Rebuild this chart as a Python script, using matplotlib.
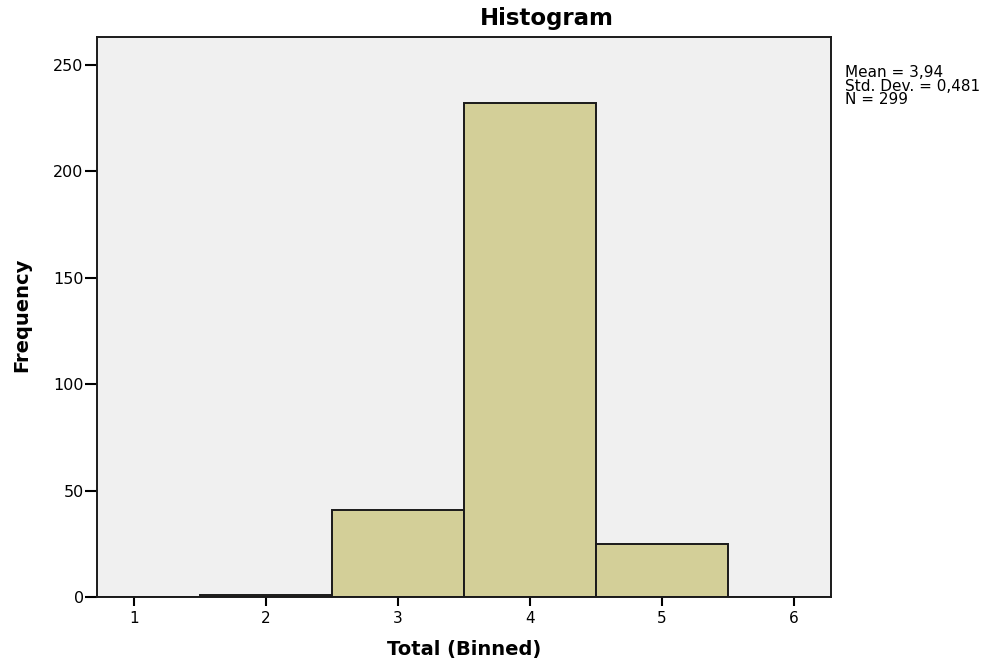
import numpy as np
import matplotlib as mpl
mpl.use('Agg')
import matplotlib.pyplot as plt

plt.rcParams['font.family'] = ['DejaVu Sans']

# binned totals and their frequencies
bins = [1, 2, 3, 4, 5, 6]
counts = [0, 1, 41, 232, 25, 0]
yticks = [0, 50, 100, 150, 200, 250]
stats_lines = ["Mean = 3,94", "Std. Dev. = 0,481", "N = 299"]

fig = plt.figure(figsize=(9.99, 6.63), dpi=100)
ax = fig.add_axes([97/999, 66/663, 734/999, 560/663])
ax.set_facecolor('#f0f0f0')

ax.bar(bins, counts, width=1.0, color='#d3cf98', edgecolor='#1a1a1a', linewidth=1.4)

ax.set_xlim(0.72, 6.28)
ax.set_ylim(0, 263.2)
ax.set_xticks(bins)
ax.set_yticks(yticks)

for s in ax.spines.values():
    s.set_linewidth(1.4)
    s.set_color('#1a1a1a')

ax.tick_params(axis='x', direction='out', length=6.5, width=1.5, pad=3.5, labelsize=11)
ax.tick_params(axis='y', direction='out', length=8.6, width=1.5, pad=1, labelsize=11.5)

fig.text(464/999, 1 - 649/663, 'Total (Binned)', ha='center', va='center',
         fontsize=14, fontweight='bold')
fig.text(22/999, 1 - 315/663, 'Frequency', ha='center', va='center',
         rotation=90, fontsize=14, fontweight='bold')
fig.text(547/999, 1 - 19/663, 'Histogram', ha='center', va='center',
         fontsize=16.5, fontweight='bold')

fig.text(845/999, 1 - 65/663, "\n".join(stats_lines), ha='left', va='top',
         fontsize=11, linespacing=0.88)

plt.savefig('out.png', dpi=100)
